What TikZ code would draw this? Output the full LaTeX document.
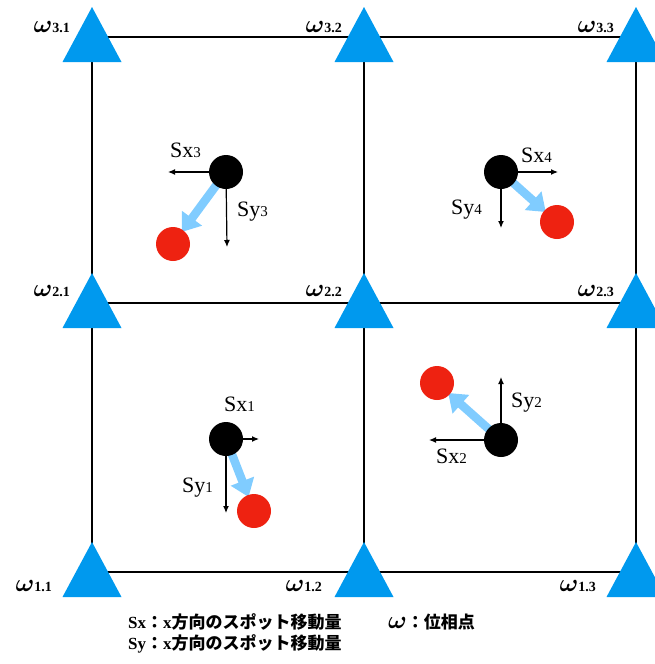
\documentclass[tikz,border=0pt]{standalone}
\usepackage{bm}
\usepackage{fontspec}
\setmainfont{Liberation Serif}
\newfontfamily\jp{Noto Sans CJK JP}
\usetikzlibrary{arrows.meta}
\definecolor{phasecol}{HTML}{0099EE}
\definecolor{shiftcol}{HTML}{80CCFF}
\definecolor{spotcol}{HTML}{EE2211}
\newcommand{\smallnum}[1]{{\fontsize{15}{15}\selectfont #1}}
\newcommand{\wlabel}[1]{{\fontsize{26}{26}\selectfont$\bm{\omega}$}{\fontsize{14}{14}\selectfont\bfseries #1}}
\tikzset{
  gridline/.style={line width=2pt, black},
  phasept/.pic={\fill[phasecol] (0,-30) -- (29.5,25) -- (-29.5,25) -- cycle;},
  origin/.style={circle, fill=black, minimum size=34pt, inner sep=0pt},
  spot/.style={circle, fill=spotcol, minimum size=34pt, inner sep=0pt},
  shiftarrow/.style={line width=8.5pt, shiftcol, shorten <=15pt, shorten >=15pt,
    -{Triangle[length=17pt,width=24pt]}},
  comp/.style={line width=1.2pt, -{Latex[length=7pt,width=6pt]}},
  slabel/.style={anchor=base west, inner sep=0pt, font=\fontsize{22}{22}\selectfont},
  wtext/.style={anchor=base east, inner sep=0pt},
  legend/.style={anchor=base west, inner sep=0pt, font=\fontsize{17}{17}\selectfont\bfseries}
}
\begin{document}
\begin{tikzpicture}[x=1pt, y=-1pt]
\useasboundingbox (0,0) rectangle (654,664);

% grid crossings (phase points)
\coordinate (w11) at (92,572);  \coordinate (w12) at (364,572); \coordinate (w13) at (636,572);
\coordinate (w21) at (92,303);  \coordinate (w22) at (364,303); \coordinate (w23) at (636,303);
\coordinate (w31) at (92,37);   \coordinate (w32) at (364,37);  \coordinate (w33) at (636,37);

% grid lines
\draw[gridline] (w11) -- (w13) (w21) -- (w23) (w31) -- (w33);
\draw[gridline] (w11) -- (w31) (w12) -- (w32) (w13) -- (w33);

% phase point markers
\foreach \p in {w11,w12,w13,w21,w22,w23,w31,w32,w33} \pic at (\p) {phasept};

% spot centres before and after shift
\coordinate (b1) at (226,439); \coordinate (r1) at (254,511);
\coordinate (b2) at (501,440); \coordinate (r2) at (437,383);
\coordinate (b3) at (226,172); \coordinate (r3) at (173,244);
\coordinate (b4) at (501,172); \coordinate (r4) at (557,222);

% ends of the component arrows
\coordinate (x1) at (259,439); \coordinate (y1) at (226,513);
\coordinate (x2) at (429,440); \coordinate (y2) at (501,377);
\coordinate (x3) at (168,172); \coordinate (y3) at (227,247);
\coordinate (x4) at (558,172); \coordinate (y4) at (501,228);

% x / y components
\foreach \i in {1,2,3,4} {
  \draw[comp] (b\i) -- (x\i);
  \draw[comp] (b\i) -- (y\i);
}

% spot shifts
\foreach \i in {1,2,3,4} \draw[shiftarrow] (b\i) -- (r\i);

% spots
\foreach \i in {1,2,3,4} {
  \node[origin] (ob\i) at (b\i) {};
  \node[spot] (sr\i) at (r\i) {};
}

% component labels
\node[slabel] (lsx1) at (224,411) {Sx\smallnum{1}};
\node[slabel] (lsy1) at (182,492) {Sy\smallnum{1}};
\node[slabel] (lsx2) at (436,463) {Sx\smallnum{2}};
\node[slabel] (lsy2) at (511,407) {Sy\smallnum{2}};
\node[slabel] (lsx3) at (170,157) {Sx\smallnum{3}};
\node[slabel] (lsy3) at (237,216) {Sy\smallnum{3}};
\node[slabel] (lsx4) at (521,162) {Sx\smallnum{4}};
\node[slabel] (lsy4) at (451,214) {Sy\smallnum{4}};

% phase point labels
\node[wtext] (l31) at (70,32)  {\wlabel{3.1}};
\node[wtext] (l32) at (342,32) {\wlabel{3.2}};
\node[wtext] (l33) at (614,32) {\wlabel{3.3}};
\node[wtext] (l21) at (70,296)  {\wlabel{2.1}};
\node[wtext] (l22) at (342,296) {\wlabel{2.2}};
\node[wtext] (l23) at (614,296) {\wlabel{2.3}};
\node[wtext] (l11) at (52,591)  {\wlabel{1.1}};
\node[wtext] (l12) at (322,591) {\wlabel{1.2}};
\node[wtext] (l13) at (596,591) {\wlabel{1.3}};

% legend
\node[legend] (legx) at (128,628) {Sx{\jp ：}x{\jp 方向のスポット移動量}};
\node[legend] (legy) at (128,649) {Sy{\jp ：}x{\jp 方向のスポット移動量}};
\node[legend] (legw) at (388,628) {{\fontsize{24}{24}\selectfont\boldmath$\omega$}{\jp ：位相点}};
\end{tikzpicture}
\end{document}
